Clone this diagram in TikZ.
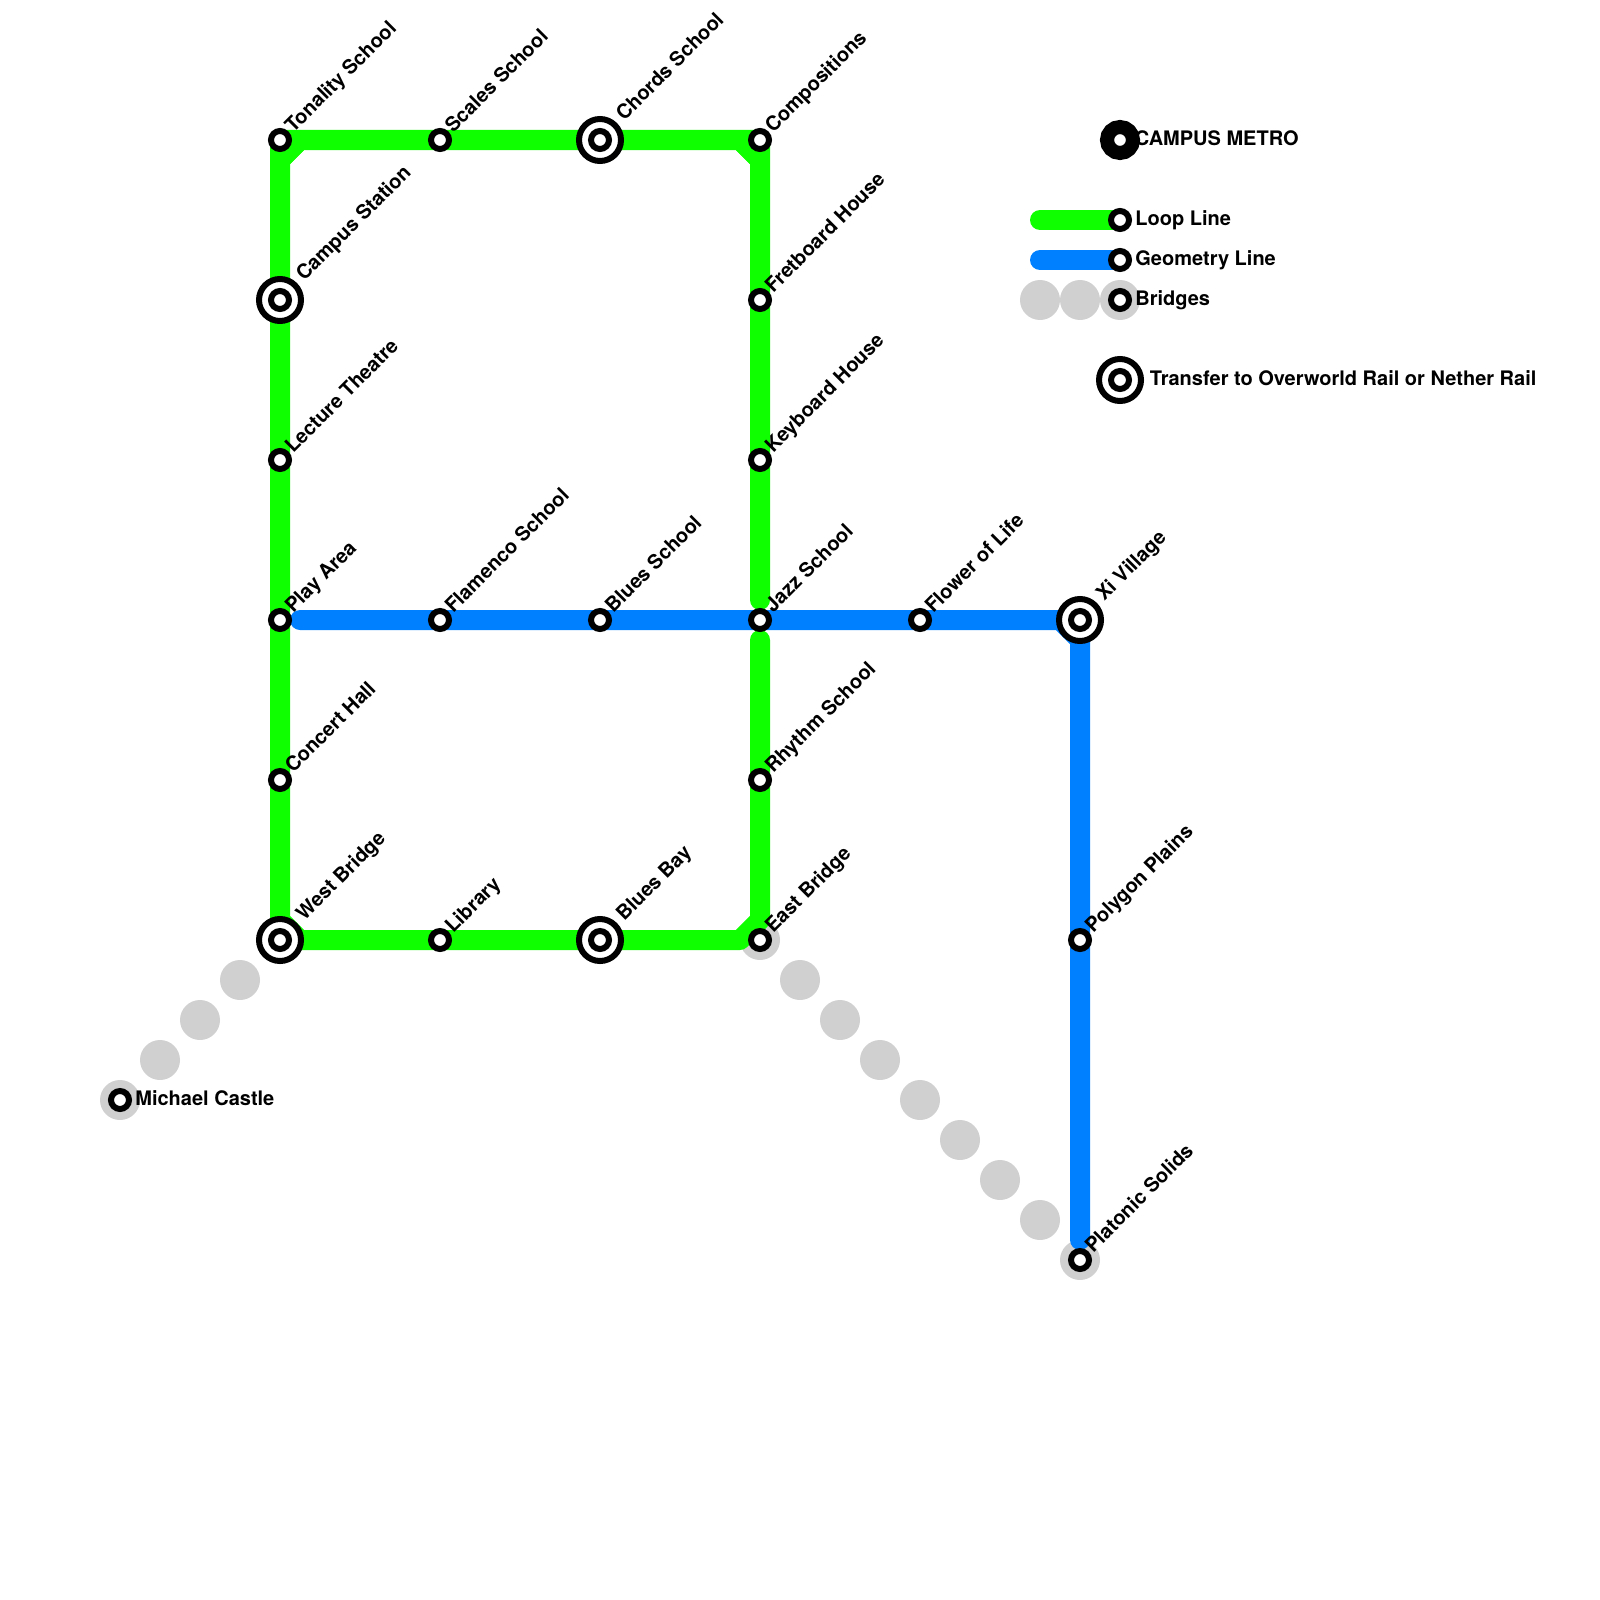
\documentclass[tikz,border=0pt]{standalone}
\usepackage{fontspec}
\setmainfont{TeX Gyre Heros}
\usetikzlibrary{backgrounds}
\definecolor{loopgreen}{HTML}{10FF00}
\definecolor{geomblue}{HTML}{0080FF}
\definecolor{bridgegray}{HTML}{D0D0D0}

\begin{document}
\begin{tikzpicture}[
  x=0.5pt, y=-0.5pt,
  station/.style={
    circle, draw=black, fill=white,
    line width=3pt, inner sep=0pt, outer sep=0pt, minimum size=9pt},
  transfer/.style={
    circle, draw=black, fill=white,
    line width=3pt, inner sep=0pt, outer sep=0pt, minimum size=21pt},
  logo/.style={
    circle, draw=black, fill=white,
    line width=7pt, inner sep=0pt, outer sep=0pt, minimum size=13pt},
  bridge/.style={
    circle, fill=bridgegray, inner sep=0pt, outer sep=0pt, minimum size=20pt},
  loopline/.style={loopgreen, line width=10pt, line cap=round, line join=round},
  geomline/.style={geomblue, line width=10pt, line cap=round, line join=round},
  lab/.style={anchor=base west, inner sep=0pt, font=\fontsize{10}{12}\selectfont\bfseries},
  slab/.style={lab, rotate=45},
]
  \useasboundingbox (0,0) rectangle (1600,1600);

  % Transfer rings
  \node[transfer] (campusring) at (280,300) {};
  \node[transfer] (chordsring) at (600,140) {};
  \node[transfer] (xiring) at (1080,620) {};
  \node[transfer] (westbridgering) at (280,940) {};
  \node[transfer] (bluesbayring) at (600,940) {};
  \node[transfer] (legendtransferring) at (1120,380) {};

  % Stations
  \node[station] (tonality) at (280,140) {};
  \node[station] (scales) at (440,140) {};
  \node[station] (chords) at (600,140) {};
  \node[station] (compositions) at (760,140) {};
  \node[station] (campus) at (280,300) {};
  \node[station] (fretboard) at (760,300) {};
  \node[station] (lecture) at (280,460) {};
  \node[station] (keyboard) at (760,460) {};
  \node[station] (playarea) at (280,620) {};
  \node[station] (flamenco) at (440,620) {};
  \node[station] (bluesschool) at (600,620) {};
  \node[station] (jazz) at (760,620) {};
  \node[station] (flower) at (920,620) {};
  \node[station] (xi) at (1080,620) {};
  \node[station] (concert) at (280,780) {};
  \node[station] (rhythm) at (760,780) {};
  \node[station] (westbridge) at (280,940) {};
  \node[station] (library) at (440,940) {};
  \node[station] (bluesbay) at (600,940) {};
  \node[station] (eastbridge) at (760,940) {};
  \node[station] (polygon) at (1080,940) {};
  \node[station] (platonic) at (1080,1260) {};
  \node[station] (michael) at (120,1100) {};

  % Legend stations
  \node[logo] (legendlogo) at (1120,140) {};
  \node[station] (legendloop) at (1120,220) {};
  \node[station] (legendgeom) at (1120,260) {};
  \node[station] (legendbridge) at (1120,300) {};
  \node[station] (legendtransfer) at (1120,380) {};

  % Line ends and corners
  \coordinate (jazzup) at (760,600);
  \coordinate (jazzdown) at (760,640);
  \coordinate (tlv) at (280,160);
  \coordinate (tlh) at (300,140);
  \coordinate (trv) at (760,160);
  \coordinate (trh) at (740,140);
  \coordinate (blv) at (280,920);
  \coordinate (blh) at (300,940);
  \coordinate (brv) at (760,920);
  \coordinate (brh) at (740,940);
  \coordinate (playend) at (300,620);
  \coordinate (xih) at (1060,620);
  \coordinate (xiv) at (1080,640);
  \coordinate (platonicend) at (1080,1240);
  \coordinate (legendloopend) at (1040,220);
  \coordinate (legendgeomend) at (1040,260);

  \begin{scope}[on background layer]
    % Bridges
    \foreach \i/\x/\y in {1/160/1060, 2/200/1020, 3/240/980, 4/800/980, 5/840/1020,
        6/880/1060, 7/920/1100, 8/960/1140, 9/1000/1180, 10/1040/1220,
        11/1040/300, 12/1080/300}
      \node[bridge] (bridge\i) at (\x,\y) {};
    \node[bridge] (bridgemichael) at (michael.center) {};
    \node[bridge] (bridgeeast) at (eastbridge.center) {};
    \node[bridge] (bridgeplatonic) at (platonic.center) {};
    \node[bridge] (bridgelegend) at (legendbridge.center) {};

    % Loop line
    \draw[loopline] (jazzup) -- (keyboard.center) -- (fretboard.center) -- (trv) -- (trh)
      -- (chords.center) -- (scales.center) -- (tlh) -- (tlv) -- (campus.center)
      -- (lecture.center) -- (playarea.center) -- (concert.center) -- (blv) -- (blh)
      -- (library.center) -- (bluesbay.center) -- (brh) -- (brv) -- (rhythm.center) -- (jazzdown);
    \draw[loopline] (tonality.center) -- (tlh) -- (tlv) -- cycle;
    \draw[loopline] (compositions.center) -- (trh) -- (trv) -- cycle;

    % Geometry line
    \draw[geomline] (playend) -- (flamenco.center) -- (bluesschool.center) -- (jazz.center)
      -- (flower.center) -- (xih) -- (xiv) -- (polygon.center) -- (platonicend);

    % Legend lines
    \draw[loopline] (legendloopend) -- (legendloop.center);
    \draw[geomline] (legendgeomend) -- (legendgeom.center);
  \end{scope}

  % Station names
  \node[slab] (tonalitytext) at (293,134) {Tonality School};
  \node[slab] (scalestext) at (453,134) {Scales School};
  \node[slab] (chordstext) at (624,122) {Chords School};
  \node[slab] (compositionstext) at (773,134) {Compositions};
  \node[slab] (campustext) at (304,282) {Campus Station};
  \node[slab] (fretboardtext) at (773,294) {Fretboard House};
  \node[slab] (lecturetext) at (293,454) {Lecture Theatre};
  \node[slab] (keyboardtext) at (773,454) {Keyboard House};
  \node[slab] (playareatext) at (293,614) {Play Area};
  \node[slab] (flamencotext) at (453,614) {Flamenco School};
  \node[slab] (bluesschooltext) at (613,614) {Blues School};
  \node[slab] (jazztext) at (773,614) {Jazz School};
  \node[slab] (flowertext) at (933,614) {Flower of Life};
  \node[slab] (xitext) at (1104,602) {Xi Village};
  \node[slab] (concerttext) at (293,774) {Concert Hall};
  \node[slab] (rhythmtext) at (773,774) {Rhythm School};
  \node[slab] (westbridgetext) at (304,922) {West Bridge};
  \node[slab] (librarytext) at (453,934) {Library};
  \node[slab] (bluesbaytext) at (624,922) {Blues Bay};
  \node[slab] (eastbridgetext) at (773,934) {East Bridge};
  \node[slab] (polygontext) at (1093,934) {Polygon Plains};
  \node[slab] (platonictext) at (1093,1254) {Platonic Solids};
  \node[lab] (michaeltext) at (135,1105) {Michael Castle};

  % Legend
  \node[lab] (legendtitle) at (1134.5,146) {CAMPUS METRO};
  \node[lab] (legendlooptext) at (1135,225) {Loop Line};
  \node[lab] (legendgeomtext) at (1135,265) {Geometry Line};
  \node[lab] (legendbridgetext) at (1135,305) {Bridges};
  \node[lab] (legendtransfertext) at (1149.5,385) {Transfer to Overworld Rail or Nether Rail};
\end{tikzpicture}
\end{document}
